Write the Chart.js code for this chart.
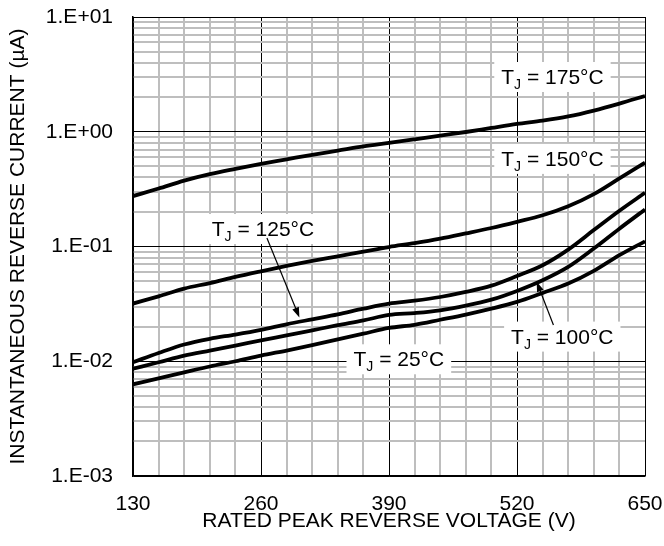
<!DOCTYPE html>
<html>
<head>
<meta charset="utf-8">
<script src="https://cdn.jsdelivr.net/npm/chart.js@4/dist/chart.umd.min.js"></script>
<style>
  html, body { margin: 0; padding: 0; background: #fff; }
  #wrap { width: 664px; height: 546px; }
</style>
</head>
<body>
<div id="wrap"><canvas id="chart" width="664" height="546"></canvas></div>
<script>
// rated peak reverse voltage (V)
const voltages = [130, 156, 182, 208, 234, 260, 286, 312, 338, 364, 390, 416, 442, 468, 494, 520, 546, 572, 598, 624, 650]

// instantaneous reverse current (uA)
const tj175 = [0.275, 0.32, 0.375, 0.427, 0.475, 0.525, 0.575, 0.63, 0.685, 0.745, 0.80, 0.86, 0.925, 0.995, 1.08, 1.17, 1.25, 1.36, 1.53, 1.76, 2.05]
const tj150 = [0.0318, 0.0368, 0.043, 0.048, 0.0543, 0.0608, 0.0678, 0.075, 0.0822, 0.0903, 0.099, 0.107, 0.117, 0.13, 0.145, 0.164, 0.187, 0.224, 0.286, 0.392, 0.537]
const tj125 = [0.0098, 0.0118, 0.014, 0.0157, 0.0171, 0.0188, 0.021, 0.0232, 0.0256, 0.0287, 0.0318, 0.0337, 0.0363, 0.0402, 0.0456, 0.0554, 0.0687, 0.094, 0.139, 0.205, 0.294]
const tj100 = [0.0086, 0.0098, 0.0112, 0.0124, 0.0137, 0.0152, 0.0168, 0.0186, 0.0206, 0.0227, 0.0253, 0.0263, 0.0278, 0.0305, 0.0344, 0.041, 0.0508, 0.0664, 0.096, 0.143, 0.21]
const tj25 = [0.0063, 0.0071, 0.008, 0.009, 0.01, 0.0112, 0.0124, 0.0138, 0.0155, 0.0174, 0.0195, 0.0208, 0.023, 0.0255, 0.0287, 0.0329, 0.0394, 0.0475, 0.0613, 0.084, 0.111]

// axis ticks
const xMajorTicks = [130, 260, 390, 520, 650]
const xMinorStep = 26
const yDecades = [0.001, 0.01, 0.1, 1, 10]
const yTickLabels = ["1.E-03", "1.E-02", "1.E-01", "1.E+00", "1.E+01"]

// curve labels, placed in data coordinates; arrows go from -> to
const curveLabels = [
  { temp: "175", x: 556, y: 3.0 },
  { temp: "150", x: 556, y: 0.58 },
  { temp: "125", x: 262, y: 0.142, arrow: { from: [266, 0.1186], to: [299, 0.0241] } },
  { temp: "100", x: 566, y: 0.0164, arrow: { from: [557, 0.0207], to: [540, 0.0493] } },
  { temp: "25", x: 400, y: 0.0104 }
]

const FONT = "'Liberation Sans', Arial, Helvetica, sans-serif"
const fontSize = 21
const minorGrid = "rgb(190, 190, 190)"

const isDecade = v => Math.abs(Math.log10(v) - Math.round(Math.log10(v))) < 1e-6

const yGridValues = []
yDecades.slice(0, -1).forEach(d => {
  for (let m = 1; m <= 9; m++) yGridValues.push(+(m * d).toPrecision(3))
})
yGridValues.push(yDecades[yDecades.length - 1])

const series = [tj175, tj150, tj125, tj100, tj25]

const labelPlugin = {
  id: "curveLabels",
  afterDatasetsDraw(chart) {
    const { ctx } = chart
    const xs = chart.scales.x
    const ys = chart.scales.y
    ctx.save()

    curveLabels.forEach(l => {
      const cx = xs.getPixelForValue(l.x)
      const cy = ys.getPixelForValue(l.y)
      const big = fontSize + "px " + FONT
      const small = "14px " + FONT
      ctx.font = big
      const wT = ctx.measureText("T").width
      const rest = " = " + l.temp + "°C"
      const wRest = ctx.measureText(rest).width
      ctx.font = small
      const wJ = ctx.measureText("J").width
      const total = wT + wJ + wRest
      const boxW = total + 14
      const boxH = 30

      ctx.fillStyle = "#fff"
      ctx.fillRect(cx - boxW / 2, cy - boxH / 2, boxW, boxH)

      if (l.arrow) {
        const x0 = xs.getPixelForValue(l.arrow.from[0])
        const y0 = ys.getPixelForValue(l.arrow.from[1])
        const x1 = xs.getPixelForValue(l.arrow.to[0])
        const y1 = ys.getPixelForValue(l.arrow.to[1])
        const ang = Math.atan2(y1 - y0, x1 - x0)
        const headLen = 10
        const headW = 3.5
        ctx.strokeStyle = "#000"
        ctx.lineWidth = 1.2
        ctx.beginPath()
        ctx.moveTo(x0, y0)
        ctx.lineTo(x1 - Math.cos(ang) * headLen * 0.8, y1 - Math.sin(ang) * headLen * 0.8)
        ctx.stroke()
        ctx.fillStyle = "#000"
        ctx.beginPath()
        ctx.moveTo(x1, y1)
        ctx.lineTo(x1 - Math.cos(ang) * headLen - Math.sin(ang) * headW, y1 - Math.sin(ang) * headLen + Math.cos(ang) * headW)
        ctx.lineTo(x1 - Math.cos(ang) * headLen + Math.sin(ang) * headW, y1 - Math.sin(ang) * headLen - Math.cos(ang) * headW)
        ctx.closePath()
        ctx.fill()
      }

      const baseline = cy + 7
      let x = cx - total / 2
      ctx.fillStyle = "#000"
      ctx.textBaseline = "alphabetic"
      ctx.textAlign = "left"
      ctx.font = big
      ctx.fillText("T", x, baseline)
      x += wT
      ctx.font = small
      ctx.fillText("J", x, baseline + 5)
      x += wJ
      ctx.font = big
      ctx.fillText(rest, x, baseline)
    })

    ctx.restore()
  }
}

new Chart(document.getElementById("chart"), {
  type: "line",
  data: {
    labels: voltages,
    datasets: series.map(s => ({
      data: s.map((v, i) => ({ x: voltages[i], y: v })),
      borderColor: "#000",
      borderWidth: 3.8,
      pointRadius: 0,
      fill: false,
      cubicInterpolationMode: "monotone"
    }))
  },
  options: {
    responsive: false,
    animation: false,
    events: [],
    layout: { padding: { left: 0, top: 17, right: 19, bottom: 0 } },
    plugins: {
      legend: { display: false },
      tooltip: { enabled: false }
    },
    scales: {
      x: {
        type: "linear",
        min: 130,
        max: 650,
        afterBuildTicks: scale => {
          const t = []
          for (let v = xMajorTicks[0]; v <= xMajorTicks[xMajorTicks.length - 1]; v += xMinorStep) t.push({ value: v })
          scale.ticks = t
        },
        afterFit: scale => {
          scale.height = 70
          scale.paddingLeft = 0
          scale.paddingRight = 0
        },
        ticks: {
          autoSkip: false,
          maxRotation: 0,
          padding: 16,
          color: "#000",
          font: { family: FONT, size: fontSize },
          callback: v => xMajorTicks.includes(v) ? String(v) : ""
        },
        grid: {
          drawTicks: false,
          color: c => c.tick && xMajorTicks.includes(c.tick.value) ? "#000" : minorGrid,
          lineWidth: c => c.tick && xMajorTicks.includes(c.tick.value) ? 1 : 2
        },
        border: { color: "#000", width: 1.5 },
        title: {
          display: true,
          text: "RATED PEAK REVERSE VOLTAGE (V)",
          color: "#000",
          font: { family: FONT, size: fontSize },
          padding: { top: 0, bottom: 12 }
        }
      },
      y: {
        type: "logarithmic",
        min: 0.001,
        max: 10,
        afterBuildTicks: scale => {
          scale.ticks = yGridValues.map(v => ({ value: v }))
        },
        afterFit: scale => {
          scale.width = 133
          scale.paddingTop = 0
          scale.paddingBottom = 0
        },
        ticks: {
          autoSkip: false,
          padding: 20,
          color: "#000",
          font: { family: FONT, size: fontSize },
          callback: v => {
            const i = yDecades.findIndex(d => Math.abs(d - v) < d * 1e-6)
            return i >= 0 ? yTickLabels[i] : ""
          }
        },
        grid: {
          drawTicks: false,
          color: c => c.tick && isDecade(c.tick.value) ? "#000" : minorGrid,
          lineWidth: c => c.tick && isDecade(c.tick.value) ? 1 : 2
        },
        border: { color: "#000", width: 1.5 },
        title: {
          display: true,
          text: "INSTANTANEOUS REVERSE CURRENT (µA)",
          color: "#000",
          font: { family: FONT, size: fontSize },
          padding: { top: 6, bottom: 0 }
        }
      }
    }
  },
  plugins: [labelPlugin]
})
</script>
</body>
</html>
